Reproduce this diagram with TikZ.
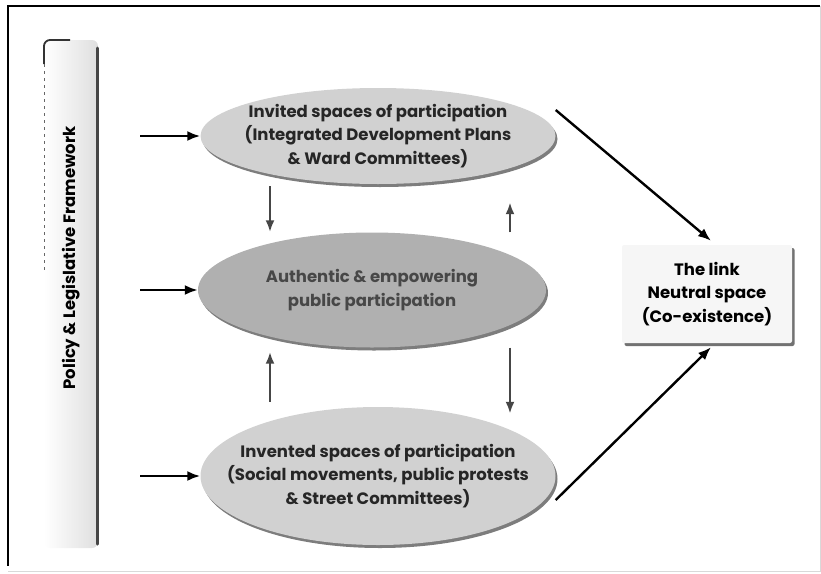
\documentclass[tikz,border=0pt]{standalone}
\usepackage{fontspec}
\setmainfont{Poppins}
\usetikzlibrary{shadows,arrows.meta,shapes.geometric}
\begin{document}
\begin{tikzpicture}[x=1pt,y=-1pt,
  lbl/.style={font=\bfseries\fontsize{16.5}{23.5}\selectfont, align=center, text=black!85},
  oval/.style={ellipse, minimum width=355pt, minimum height=96pt, fill=gray!36, draw=none,
     drop shadow={shadow xshift=2pt, shadow yshift=-3pt, fill=black!60, opacity=0.85}},
  darkoval/.style={oval, fill=gray!62},
  blackarrow/.style={-{Latex[length=13pt,width=10pt]}, line width=2.4pt, black},
  grayarrow/.style={-{Latex[length=12pt,width=9pt]}, line width=2.8pt, gray!55!black},
]
\useasboundingbox (0,0) rectangle (821,573);
\draw[line width=1.2pt] (820,6) -- (8,6) -- (8,566);
\draw[line width=0.5pt, gray!30] (820,6) -- (820,571) -- (8,571);
% left bar
\shade[left color=white, right color=gray!25, rounded corners=6pt] (44,40) rectangle (98,548);
\draw[line width=3pt, gray!55!black, line cap=round] (97,48) -- (97,544);
\draw[line width=1.8pt, black!80, rounded corners=6pt] (44,64) -- (44,40) -- (70,40);
\draw[line width=0.6pt, black!60, dash pattern=on 3pt off 4pt] (44,64) -- (44,270);
\node[rotate=90, font=\bfseries\fontsize{16.5}{18}\selectfont] (plf) at (71,258) {Policy \& Legislative Framework};
% ellipses
\node[oval] (inv) at (378,136) {};
\node[lbl] (invtxt) at (inv.center) {Invited spaces of participation\\(Integrated Development Plans\\\& Ward Committees)};
\node[darkoval, minimum height=115pt, minimum width=348pt] (auth) at (372,290) {};
\node[lbl, text=black!72] (authtxt) at (auth.center) {Authentic \& empowering\\public participation};
\node[oval, minimum height=138pt] (invt) at (378,476) {};
\node[lbl] (invttxt) at (invt.center) {Invented spaces of participation\\(Social movements, public protests\\\& Street Committees)};
% right box
\node[draw=none, fill=gray!7, rounded corners=2pt, minimum width=170pt, minimum height=98pt, align=center,
  font=\bfseries\fontsize{16.5}{23.5}\selectfont,
  drop shadow={shadow xshift=2.5pt, shadow yshift=-3pt, fill=black!65, opacity=0.85}] (link) at (707,294)
  {The link\\Neutral space\\(Co-existence)};
% left arrows
\coordinate (l1) at (140,136);
\coordinate (l2) at (140,290);
\coordinate (l3) at (140,476);
\draw[blackarrow] (l1) -- (inv.west);
\draw[blackarrow] (l2) -- (auth.west);
\draw[blackarrow] (l3) -- (invt.west);
% to right box
\draw[blackarrow] ([yshift=26pt]inv.east) -- ([xshift=4pt,yshift=4pt]link.north);
\draw[blackarrow] ([yshift=-24pt]invt.east) -- ([xshift=4pt,yshift=-4pt]link.south);
% gray arrows
\coordinate (xa) at (270,0);
\coordinate (xb) at (510,0);
\draw[grayarrow, shorten <=2pt] (inv.south -| xa) -- (auth.north -| xa);
\draw[grayarrow, shorten >=18pt] (auth.north -| xb) -- (inv.south -| xb);
\draw[grayarrow, shorten <=5pt, shorten >=4pt] (invt.north -| xa) -- (auth.south -| xa);
\draw[grayarrow, shorten >=-7pt] (auth.south -| xb) -- (invt.north -| xb);
\end{tikzpicture}
\end{document}
